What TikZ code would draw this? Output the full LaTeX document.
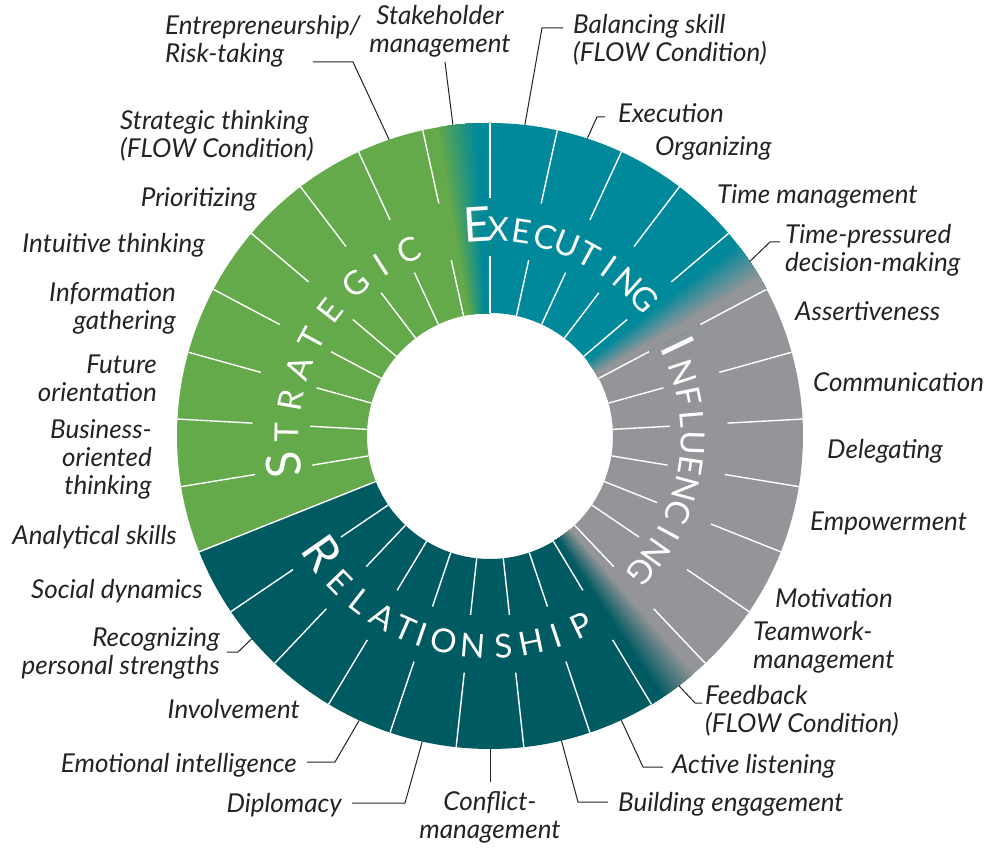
\documentclass[tikz,border=0pt]{standalone}
\usepackage{fontspec}
\setmainfont{Lato}

\definecolor{execcol}{HTML}{00899B}
\definecolor{inflcol}{HTML}{939598}
\definecolor{relcol}{HTML}{005A62}
\definecolor{stratcol}{HTML}{64A94A}
\definecolor{inkcol}{HTML}{232323}

\newcommand\rin{123}
\newcommand\rout{313}

% ring piece between two angles, going clockwise
\newcommand\ringpiece[2]{(#1:\rin) arc[start angle=#1,end angle=#2,radius=\rin] -- (#2:\rout) arc[start angle=#2,end angle=#1,radius=\rout] -- cycle}

% ring piece that blends from colour #3 into colour #4
\newcommand\blendpiece[4]{%
  \fill[#3] \ringpiece{#1}{#2};
  \foreach \k in {1,...,24}{%
    \pgfmathsetmacro\s{(#1)-(0.2+0.6*\k/24)*((#1)-(#2))}%
    \pgfmathsetmacro\p{100*\k/24}%
    \fill[#4!\p!#3] \ringpiece{\s}{#2};
  }}

\begin{document}
\begin{tikzpicture}[x=1pt,y=1pt,
    divider/.style={white, line width=1.4pt},
    letter/.style={text=white, inner sep=0pt, anchor=base, font=\fontsize{33}{33}\selectfont},
    bigletter/.style={letter, font=\fontsize{48}{48}\selectfont},
    skill/.style={text=inkcol, inner sep=0pt, font=\itshape\fontsize{26}{28}\selectfont},
    leader/.style={draw=inkcol, line width=1pt}]
  \useasboundingbox (-490,-412) rectangle (500,436);
  \fill[white] (-490,-412) rectangle (500,436);

  % the four parts of the ring
  \fill[execcol] \ringpiece{90.5}{39.8};
  \fill[inflcol] \ringpiece{28.5}{-47};
  \fill[relcol] \ringpiece{-58.4}{-158.2759};
  \fill[stratcol] \ringpiece{-158.2759}{-258.2};
  \blendpiece{40.3448}{27.9310}{execcol}{inflcol}
  \blendpiece{-46.5517}{-58.9655}{inflcol}{relcol}
  \blendpiece{-257.5862}{-270}{stratcol}{execcol}

  % white dividers, broken where the names run
  \foreach \k in {0,...,28}{
    \pgfmathsetmacro\a{90-\k*360/29}
    \ifnum\k=20
      \draw[divider] (\a:\rin) -- (\a:\rout);
    \else
      \draw[divider] (\a:\rin) -- (\a:180) (\a:238) -- (\a:\rout);
    \fi
  }

  % names of the parts
  \node[bigletter, rotate=3.5] (exe-0) at (93.5:195) {E};
  \foreach \ch/\a [count=\i] in {X/87.8,E/81.2,C/74.6,U/68,T/61.4,I/54.8,N/48.2,G/41.6}
    \node[letter, rotate=\a-90] (exe-\i) at (\a:195) {\ch};
  \node[bigletter, rotate=25.6-90] (inf-0) at (25.6:191) {I};
  \foreach \ch/\a [count=\i] in {N/18.1,F/11.4,L/4.8,U/-1.9,E/-8.5,N/-15.2,C/-21.9,I/-28.5,N/-35.2,G/-41.8}
    \node[letter, rotate=\a-90] (inf-\i) at (\a:191) {\ch};
  \node[bigletter, rotate=188-90] (str-0) at (188:191) {S};
  \foreach \ch/\a [count=\i] in {T/179,R/169.8,A/160.5,T/151.5,E/142,G/131.5,I/122.5,C/113.5}
    \node[letter, rotate=\a-90] (str-\i) at (\a:191) {\ch};
  \node[bigletter, rotate=214.9+90] (rel-0) at (214.9:222) {R};
  \foreach \ch/\a [count=\i] in {E/224.2,L/232.1,A/239.5,T/246.2,I/251.1,O/257.3,N/265.4,S/273.6,H/281.5,I/288.4,P/295.7}
    \node[letter, rotate=\a+90] (rel-\i) at (\a:222) {\ch};

  % skills, top and right (base = last line)
  \node[skill, anchor=base west, align=left] (entre) at (-325,373) {Entrepreneurship/\\Risk-taking};
  \node[skill, anchor=base, align=center] (stake) at (-50,383) {Stakeholder\\management};
  \node[skill, anchor=base west, align=left] (balance) at (83,374) {Balancing skill\\(FLOW Condition)};
  \node[skill, anchor=base west] (execu) at (128,313) {Execution};
  \node[skill, anchor=base west] (organ) at (165,280) {Organizing};
  \node[skill, anchor=base west] (timem) at (227,232) {Time management};
  \node[skill, anchor=base west, align=left] (timep) at (295,164) {Time-pressured\\decision-making};
  \node[skill, anchor=base west] (assert) at (305,115) {Assertiveness};
  \node[skill, anchor=base west] (commu) at (323,44) {Communication};
  \node[skill, anchor=base west] (deleg) at (337,-23) {Delegating};
  \node[skill, anchor=base west] (empow) at (320,-95) {Empowerment};
  \node[skill, anchor=base west] (motiv) at (285,-171) {Motivation};
  \node[skill, anchor=base west, align=left] (team) at (263,-232) {Teamwork-\\management};
  \node[skill, anchor=base west, align=left] (feedb) at (215,-296) {Feedback\\(FLOW Condition)};
  \node[skill, anchor=base west] (activ) at (182,-337) {Active listening};
  \node[skill, anchor=base west] (build) at (128,-375) {Building engagement};
  % skills, bottom and left
  \node[skill, anchor=base, align=center] (confl) at (0,-402) {Conflict-\\management};
  \node[skill, anchor=base east] (diplo) at (-148,-376) {Diplomacy};
  \node[skill, anchor=base east] (emoti) at (-193,-336) {Emotional intelligence};
  \node[skill, anchor=base east] (invol) at (-190,-282) {Involvement};
  \node[skill, anchor=base east, align=right] (recog) at (-270,-238) {Recognizing\\personal strengths};
  \node[skill, anchor=base east] (socia) at (-287,-162) {Social dynamics};
  \node[skill, anchor=base east] (analy) at (-313,-109) {Analytical skills};
  \node[skill, anchor=base east, align=right] (busin) at (-338,-59) {Business-\\oriented\\thinking};
  \node[skill, anchor=base east, align=right] (futur) at (-333,34) {Future\\orientation};
  \node[skill, anchor=base east, align=right] (infor) at (-314,106) {Information\\gathering};
  \node[skill, anchor=base east] (intui) at (-285,183) {Intuitive thinking};
  \node[skill, anchor=base east] (prior) at (-233,229) {Prioritizing};
  \node[skill, anchor=base west, align=left] (strat) at (-370,278) {Strategic thinking\\(FLOW Condition)};

  % leader lines
  \coordinate (entre-a) at (-177,374);
  \coordinate (stake-a) at (-45,374);
  \coordinate (balance-a) at (73,408);
  \coordinate (execu-a) at (115,319);
  \coordinate (timep-a) at (290,194);
  \coordinate (feedb-a) at (212,-267);
  \coordinate (activ-a) at (173,-331);
  \coordinate (build-a) at (118,-366);
  \coordinate (confl-a) at (0,-346);
  \coordinate (diplo-a) at (-138,-367);
  \coordinate (emoti-a) at (-183,-326);
  \coordinate (recog-a) at (-263,-216);
  \draw[leader] (entre-a) -- ++(40,0) -- (108.8:\rout);
  \draw[leader] (stake-a) -- (96.8:\rout);
  \draw[leader] (balance-a) -- ++(-21,0) -- (83.6:\rout);
  \draw[leader] (execu-a) -- ++(-8,0) -- (71.9:\rout);
  \draw[leader] (timep-a) -- ++(-10,0) -- (33.9:\rout);
  \draw[leader] (feedb-a) -- ++(-7,0) -- (-52.9:\rout);
  \draw[leader] (activ-a) -- ++(-20,0) -- (-65.2:\rout);
  \draw[leader] (build-a) -- ++(-30,0) -- (-76.8:\rout);
  \draw[leader] (confl-a) -- (-90:\rout);
  \draw[leader] (diplo-a) -- ++(53,0) -- (-102.5:\rout);
  \draw[leader] (emoti-a) -- ++(28,0) -- (-114.7:\rout);
  \draw[leader] (recog-a) -- ++(11,0) -- (-139.6:\rout);
\end{tikzpicture}
\end{document}
